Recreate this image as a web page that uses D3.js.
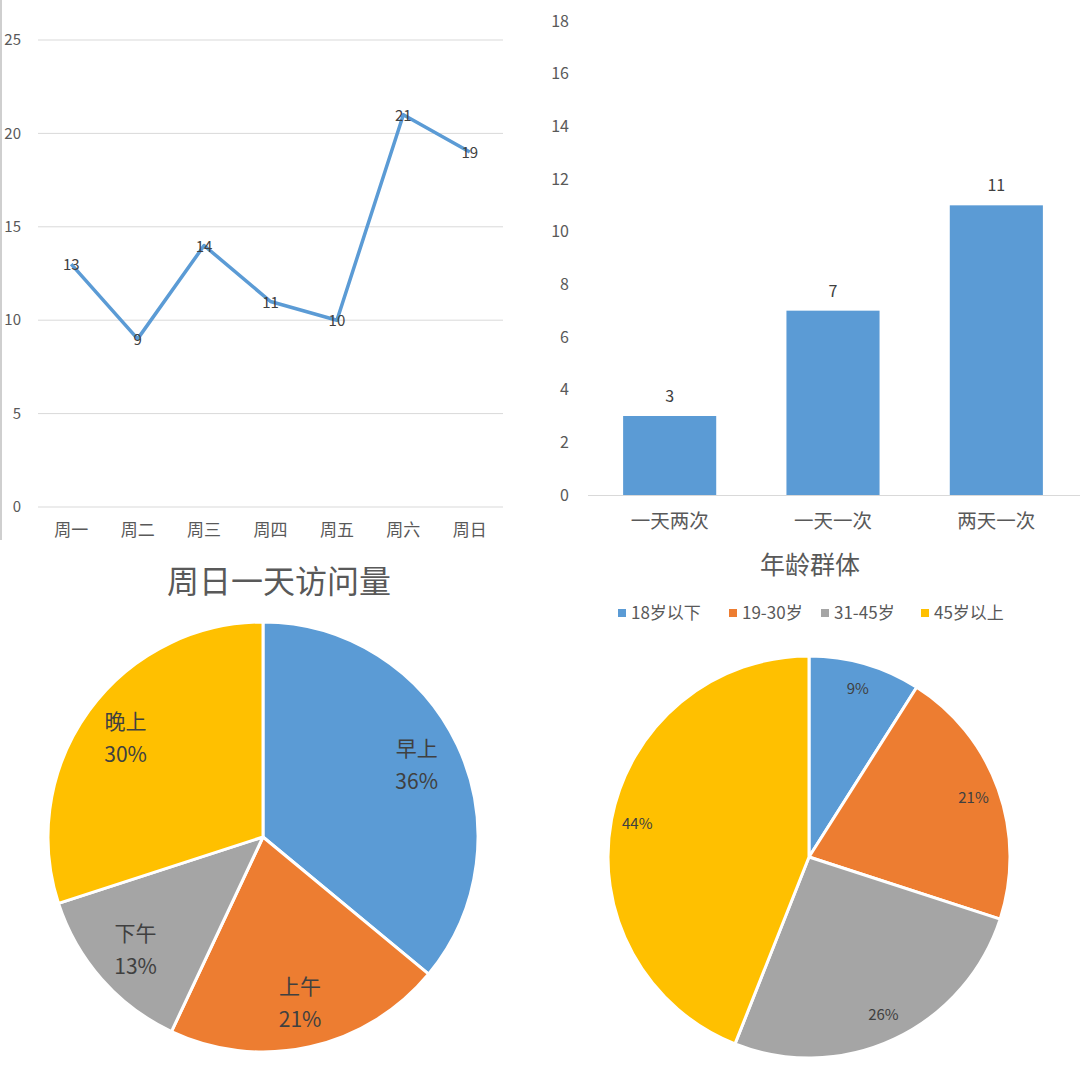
<!DOCTYPE html>
<html><head><meta charset="utf-8">
<script src="https://cdn.jsdelivr.net/npm/d3@7"></script>
<style>html,body{margin:0;padding:0;background:#fff}svg{display:block}</style>
</head><body>
<svg id="c" width="1080" height="1080"></svg>
<script>
// ---- data ----
const weekDays = ["周一","周二","周三","周四","周五","周六","周日"];
const weekVisits = [13,9,14,11,10,21,19];
const lineTicks = [0,5,10,15,20,25];

const freqCats = ["一天两次","一天一次","两天一次"];
const freqVals = [3,7,11];
const barTicks = [0,2,4,6,8,10,12,14,16,18];

const timeTitle = "周日一天访问量";
const timeCats = ["早上","上午","下午","晚上"];
const timeVals = [36,21,13,30];

const ageTitle = "年龄群体";
const ageCats = ["18岁以下","19-30岁","31-45岁","45岁以上"];
const ageVals = [9,21,26,44];

const colors = ["#5B9BD5","#ED7D31","#A5A5A5","#FFC000"];
const FONT = "'Noto Sans CJK SC','Noto Sans',sans-serif";

const svg = d3.select("#c").style("font-family", FONT);

// left border line of top-left panel
svg.append("line").attr("x1",1).attr("x2",1).attr("y1",0).attr("y2",540)
  .attr("stroke","#cfcfcf").attr("stroke-width",2);

// ---- line chart ----
{
  const x = d3.scaleBand().domain(weekDays).range([38,503]);
  const y = d3.scaleLinear().domain([0,25]).range([507,40]);
  const g = svg.append("g");
  g.selectAll("line.grid").data(lineTicks).join("line")
    .attr("x1",38).attr("x2",503).attr("y1",d=>y(d)).attr("y2",d=>y(d))
    .attr("stroke","#d9d9d9").attr("stroke-width",1);
  g.selectAll("text.yt").data(lineTicks).join("text")
    .attr("x",21).attr("y",d=>y(d)).attr("dy","0.35em").attr("text-anchor","end")
    .attr("fill","#595959").attr("font-size",15).text(d=>d);
  g.selectAll("text.xt").data(weekDays).join("text")
    .attr("x",d=>x(d)+x.bandwidth()/2).attr("y",530).attr("dy","0.35em")
    .attr("text-anchor","middle").attr("fill","#595959").attr("font-size",17).text(d=>d);
  const line = d3.line().x((d,i)=>x(weekDays[i])+x.bandwidth()/2).y(d=>y(d));
  g.append("path").datum(weekVisits).attr("d",line).attr("fill","none")
    .attr("stroke","#5B9BD5").attr("stroke-width",3.5).attr("stroke-linejoin","round");
  g.selectAll("text.lbl").data(weekVisits).join("text")
    .attr("x",(d,i)=>x(weekDays[i])+x.bandwidth()/2).attr("y",d=>y(d)+1).attr("dy","0.35em")
    .attr("text-anchor","middle").attr("fill","#404040").attr("font-size",15).text(d=>d);
}

// ---- bar chart ----
{
  const x = d3.scaleBand().domain(freqCats).range([588,1078]).paddingInner(0.43).paddingOuter(0.215);
  const y = d3.scaleLinear().domain([0,18]).range([495,21]);
  const g = svg.append("g");
  g.selectAll("text.yt").data(barTicks).join("text")
    .attr("x",569).attr("y",d=>y(d)).attr("dy","0.35em").attr("text-anchor","end")
    .attr("fill","#595959").attr("font-size",16).text(d=>d);
  g.selectAll("rect").data(freqVals).join("rect")
    .attr("x",(d,i)=>x(freqCats[i])).attr("width",x.bandwidth())
    .attr("y",d=>y(d)).attr("height",d=>y(0)-y(d)).attr("fill","#5B9BD5");
  g.append("line").attr("x1",588).attr("x2",1080).attr("y1",y(0)+0.5).attr("y2",y(0)+0.5)
    .attr("stroke","#d9d9d9").attr("stroke-width",1);
  g.selectAll("text.lbl").data(freqVals).join("text")
    .attr("x",(d,i)=>x(freqCats[i])+x.bandwidth()/2).attr("y",d=>y(d)-14)
    .attr("text-anchor","middle").attr("fill","#404040").attr("font-size",16).text(d=>d);
  g.selectAll("text.xt").data(freqCats).join("text")
    .attr("x",d=>x(d)+x.bandwidth()/2).attr("y",521).attr("dy","0.35em")
    .attr("text-anchor","middle").attr("fill","#595959").attr("font-size",19.5).text(d=>d);
}

// ---- pie 1 ----
{
  const cx=263, cy=837, r=215;
  svg.append("text").attr("x",279).attr("y",582).attr("dy","0.35em").attr("text-anchor","middle")
    .attr("fill","#595959").attr("font-size",32).text(timeTitle);
  const pie = d3.pie().sort(null)(timeVals);
  const arc = d3.arc().innerRadius(0).outerRadius(r);
  const lab = d3.arc().innerRadius(r*0.79).outerRadius(r*0.79);
  const g = svg.append("g").attr("transform",`translate(${cx},${cy})`);
  g.selectAll("path").data(pie).join("path").attr("d",arc)
    .attr("fill",(d,i)=>colors[i]).attr("stroke","#fff").attr("stroke-width",3).attr("stroke-linejoin","round");
  const t = g.selectAll("text").data(pie).join("text")
    .attr("transform",d=>`translate(${lab.centroid(d)})`)
    .attr("text-anchor","middle").attr("fill","#404040").attr("font-size",21);
  t.append("tspan").attr("x",0).attr("y",-16).attr("dy","0.35em").text((d,i)=>timeCats[i]);
  t.append("tspan").attr("x",0).attr("y",17).attr("dy","0.35em").text(d=>d.data+"%");
}

// ---- pie 2 ----
{
  const cx=809, cy=857, r=201;
  svg.append("text").attr("x",810).attr("y",565).attr("dy","0.35em").attr("text-anchor","middle")
    .attr("fill","#595959").attr("font-size",25).text(ageTitle);
  const legX = [618,729,821,921];
  const lg = svg.append("g");
  lg.selectAll("rect").data(ageCats).join("rect")
    .attr("x",(d,i)=>legX[i]).attr("y",609).attr("width",8).attr("height",8).attr("fill",(d,i)=>colors[i]);
  lg.selectAll("text").data(ageCats).join("text")
    .attr("x",(d,i)=>legX[i]+13).attr("y",613).attr("dy","0.35em")
    .attr("fill","#595959").attr("font-size",17).text(d=>d);
  const pie = d3.pie().sort(null)(ageVals);
  const arc = d3.arc().innerRadius(0).outerRadius(r);
  const lab = d3.arc().innerRadius(r*0.87).outerRadius(r*0.87);
  const g = svg.append("g").attr("transform",`translate(${cx},${cy})`);
  g.selectAll("path").data(pie).join("path").attr("d",arc)
    .attr("fill",(d,i)=>colors[i]).attr("stroke","#fff").attr("stroke-width",3).attr("stroke-linejoin","round");
  g.selectAll("text").data(pie).join("text")
    .attr("transform",d=>`translate(${lab.centroid(d)})`).attr("dy","0.35em")
    .attr("text-anchor","middle").attr("fill","#404040").attr("font-size",15).text(d=>d.data+"%");
}
</script>
</body></html>
